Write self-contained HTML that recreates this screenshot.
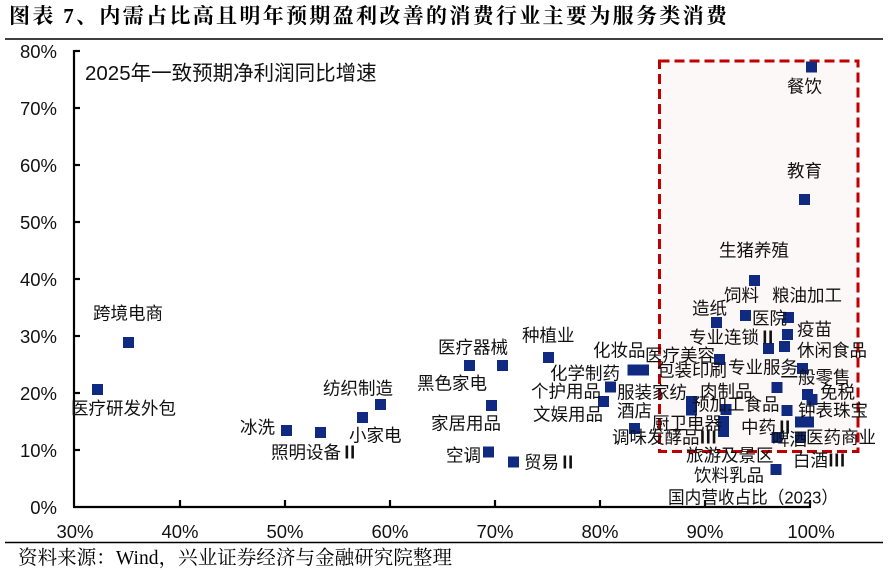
<!DOCTYPE html>
<html><head><meta charset="utf-8">
<style>
html,body{margin:0;padding:0;background:#fff;}
svg{display:block;}
.lb{font-family:"Liberation Sans","Noto Sans CJK SC",sans-serif;font-size:17.5px;fill:#111;}
.rn{font-family:"Noto Sans CJK SC",sans-serif;font-weight:bold;}
.tk{font-family:"Liberation Sans","Noto Sans CJK SC",sans-serif;font-size:18.5px;fill:#111;}
</style></head>
<body>
<svg width="888" height="570" viewBox="0 0 888 570" xmlns="http://www.w3.org/2000/svg">
<rect width="888" height="570" fill="#fff"/>
<!-- title -->
<text x="9" y="23" font-family="'Liberation Serif','Noto Serif CJK SC',serif" font-weight="bold" font-size="21" fill="#000" textLength="718" lengthAdjust="spacing">图表 7、内需占比高且明年预期盈利改善的消费行业主要为服务类消费</text>
<line x1="5" y1="39" x2="883" y2="39" stroke="#000" stroke-width="1.5"/>

<!-- highlight box -->
<rect x="659.5" y="61" width="198.5" height="390.5" fill="#fdf8f8" stroke="#c00000" stroke-width="3" stroke-dasharray="10,5"/>

<!-- axes -->
<g stroke="#000" stroke-width="2.2" fill="none">
<line x1="74" y1="50" x2="74" y2="507"/>
<line x1="73" y1="507" x2="811" y2="507"/>
<line x1="74" y1="51" x2="80" y2="51"/>
<line x1="74" y1="108" x2="80" y2="108"/>
<line x1="74" y1="165" x2="80" y2="165"/>
<line x1="74" y1="222" x2="80" y2="222"/>
<line x1="74" y1="279" x2="80" y2="279"/>
<line x1="74" y1="336" x2="80" y2="336"/>
<line x1="74" y1="393" x2="80" y2="393"/>
<line x1="74" y1="450" x2="80" y2="450"/>
<line x1="180" y1="507" x2="180" y2="500"/>
<line x1="285" y1="507" x2="285" y2="500"/>
<line x1="390" y1="507" x2="390" y2="500"/>
<line x1="495" y1="507" x2="495" y2="500"/>
<line x1="600" y1="507" x2="600" y2="500"/>
<line x1="705" y1="507" x2="705" y2="500"/>
<line x1="810" y1="507" x2="810" y2="500"/>
</g>

<!-- y tick labels -->
<g class="tk" text-anchor="end">
<text x="57" y="58">80%</text>
<text x="57" y="115">70%</text>
<text x="57" y="172">60%</text>
<text x="57" y="229">50%</text>
<text x="57" y="286">40%</text>
<text x="57" y="343">30%</text>
<text x="57" y="400">20%</text>
<text x="57" y="457">10%</text>
<text x="57" y="514">0%</text>
</g>
<!-- x tick labels -->
<g class="tk" text-anchor="middle">
<text x="75" y="538">30%</text>
<text x="180" y="538">40%</text>
<text x="285" y="538">50%</text>
<text x="390" y="538">60%</text>
<text x="495" y="538">70%</text>
<text x="600" y="538">80%</text>
<text x="705" y="538">90%</text>
<text x="811" y="538">100%</text>
</g>

<!-- chart inner title -->
<text x="85" y="80" font-family="'Liberation Sans','Noto Sans CJK SC',sans-serif" font-size="20.5" fill="#111">2025年一致预期净利润同比增速</text>

<!-- markers -->
<g fill="#0f2a80">
<rect x="806" y="61.5" width="11" height="11"/>
<rect x="799" y="194" width="11" height="11"/>
<rect x="749" y="275" width="11" height="11"/>
<rect x="740" y="310" width="11" height="11"/>
<rect x="783" y="312" width="11" height="11"/>
<rect x="711" y="317" width="11" height="11"/>
<rect x="782" y="329" width="11" height="11"/>
<rect x="763" y="343" width="11" height="11"/>
<rect x="779" y="341" width="11" height="11"/>
<rect x="714" y="354" width="11" height="11"/>
<rect x="797" y="363" width="11" height="11"/>
<rect x="638" y="364.5" width="11" height="11"/>
<rect x="627.5" y="364.5" width="11" height="11"/>
<rect x="771.5" y="382" width="11" height="11"/>
<rect x="802" y="389" width="11" height="11"/>
<rect x="806.5" y="394" width="11" height="11"/>
<rect x="686" y="396" width="11" height="11"/>
<rect x="686" y="404.5" width="11" height="11"/>
<rect x="720.5" y="404" width="11" height="11"/>
<rect x="781.5" y="405" width="11" height="11"/>
<rect x="718" y="416" width="11" height="11"/>
<rect x="718" y="426" width="11" height="11"/>
<rect x="795" y="416.5" width="11" height="11"/>
<rect x="803" y="416.5" width="11" height="11"/>
<rect x="771.5" y="432" width="11" height="11"/>
<rect x="795" y="431.5" width="11" height="11"/>
<rect x="770.5" y="464" width="11" height="11"/>
<rect x="605" y="381.5" width="11" height="11"/>
<rect x="598" y="396" width="11" height="11"/>
<rect x="629" y="423" width="11" height="11"/>
<rect x="543" y="352" width="11" height="11"/>
<rect x="464" y="360" width="11" height="11"/>
<rect x="497" y="360" width="11" height="11"/>
<rect x="486" y="400" width="11" height="11"/>
<rect x="483" y="446.5" width="11" height="11"/>
<rect x="508" y="456.5" width="11" height="11"/>
<rect x="123" y="337" width="11" height="11"/>
<rect x="92" y="384" width="11" height="11"/>
<rect x="375" y="399" width="11" height="11"/>
<rect x="357" y="412" width="11" height="11"/>
<rect x="281" y="425" width="11" height="11"/>
<rect x="315" y="427" width="11" height="11"/>
</g>

<!-- labels -->
<g class="lb">
<text x="787" y="92.5">餐饮</text>
<text x="787" y="177">教育</text>
<text x="719" y="256.5">生猪养殖</text>
<text x="724" y="301.5">饲料</text>
<text x="772" y="301.5">粮油加工</text>
<text x="692" y="314.5">造纸</text>
<text x="752" y="324.5">医院</text>
<text x="797" y="335.5">疫苗</text>
<text x="689" y="343.5">专业连锁<tspan class="rn">Ⅱ</tspan></text>
<text x="797" y="356.5">休闲食品</text>
<text x="645" y="361.5">医疗美容</text>
<text x="593" y="356.5">化妆品</text>
<text x="657" y="376.5">包装印刷</text>
<text x="728" y="373.5">专业服务</text>
<text x="780.5" y="383.5">一般零售</text>
<text x="700" y="397.5">肉制品</text>
<text x="617" y="398.5">服装家纺</text>
<text x="820" y="398.5">免税</text>
<text x="692" y="410.5">预加工食品</text>
<text x="798" y="416.5">钟表珠宝</text>
<text x="617" y="417">酒店</text>
<text x="550" y="379.5">化学制药</text>
<text x="531" y="397.5">个护用品</text>
<text x="533" y="420.5">文娱用品</text>
<text x="652" y="429.5">厨卫电器</text>
<text x="741" y="433.5">中药<tspan class="rn">Ⅱ</tspan></text>
<text x="612" y="443.5">调味发酵品<tspan class="rn">Ⅲ</tspan></text>
<text x="772" y="445.5">啤酒</text>
<text x="806" y="443.5">医药商业</text>
<text x="686" y="461.5">旅游及景区</text>
<text x="793" y="466.5">白酒<tspan class="rn">Ⅲ</tspan></text>
<text x="694" y="481.5">饮料乳品</text>
<text x="668" y="503.5" textLength="170" lengthAdjust="spacingAndGlyphs">国内营收占比（2023）</text>
<text x="522" y="341.5">种植业</text>
<text x="438" y="353.5">医疗器械</text>
<text x="417" y="389.5">黑色家电</text>
<text x="431" y="429.5">家居用品</text>
<text x="446" y="461.5">空调</text>
<text x="524" y="468.5">贸易<tspan class="rn">Ⅱ</tspan></text>
<text x="93" y="319.5">跨境电商</text>
<text x="71" y="414.5">医疗研发外包</text>
<text x="323" y="394.5">纺织制造</text>
<text x="349" y="441.5">小家电</text>
<text x="240" y="433.5">冰洗</text>
<text x="271" y="458.5">照明设备<tspan class="rn">Ⅱ</tspan></text>
</g>

<!-- footer -->
<line x1="5" y1="542.5" x2="883" y2="542.5" stroke="#000" stroke-width="1.5"/>
<text x="18" y="564" font-family="'Liberation Serif','Noto Serif CJK SC',serif" font-size="19.5" fill="#000" textLength="434" lengthAdjust="spacing">资料来源：Wind，兴业证券经济与金融研究院整理</text>
</svg>
</body></html>
